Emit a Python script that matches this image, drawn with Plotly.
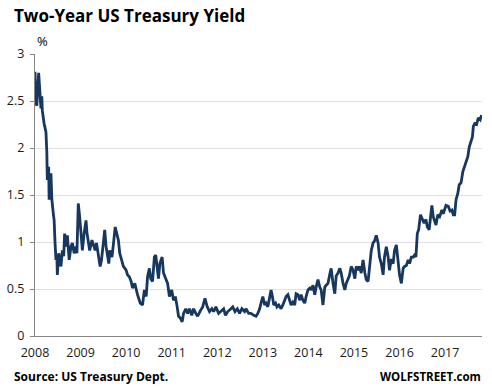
import plotly.graph_objects as go

# Decimal year positions and two-year yield values (%)
years = [
    2008.00, 2008.02, 2008.04, 2008.08, 2008.11, 2008.13, 2008.15, 2008.16, 2008.20, 2008.24,
    2008.26, 2008.27, 2008.30, 2008.31, 2008.35, 2008.37, 2008.40, 2008.42, 2008.44, 2008.46,
    2008.48, 2008.49, 2008.52, 2008.54, 2008.57, 2008.60, 2008.63, 2008.65, 2008.68, 2008.71,
    2008.75, 2008.79, 2008.82, 2008.86, 2008.90, 2008.92, 2008.95, 2008.98, 2009.01, 2009.04,
    2009.08, 2009.12, 2009.14, 2009.17, 2009.20, 2009.25, 2009.29, 2009.32, 2009.35, 2009.39,
    2009.43, 2009.46, 2009.50, 2009.53, 2009.56, 2009.59, 2009.62, 2009.64, 2009.69, 2009.73,
    2009.76, 2009.79, 2009.83, 2009.86, 2009.90, 2009.94, 2010.00, 2010.03, 2010.07, 2010.09,
    2010.11, 2010.14, 2010.19, 2010.25, 2010.31, 2010.36, 2010.40, 2010.44, 2010.47, 2010.51,
    2010.54, 2010.58, 2010.62, 2010.65, 2010.68, 2010.71, 2010.74, 2010.79, 2010.82, 2010.87,
    2010.91, 2010.95, 2011.00, 2011.04, 2011.08, 2011.12, 2011.15, 2011.19, 2011.23, 2011.26,
    2011.31, 2011.35, 2011.39, 2011.44, 2011.48, 2011.53, 2011.57, 2011.63, 2011.68, 2011.73,
    2011.78, 2011.83, 2011.88, 2011.92, 2011.97, 2012.03, 2012.08, 2012.14, 2012.18, 2012.23,
    2012.30, 2012.34, 2012.39, 2012.44, 2012.49, 2012.54, 2012.60, 2012.63, 2012.69, 2012.74,
    2012.80, 2012.85, 2012.89, 2012.93, 2012.96, 2013.00, 2013.04, 2013.07, 2013.11, 2013.15,
    2013.18, 2013.21, 2013.24, 2013.28, 2013.31, 2013.35, 2013.40, 2013.44, 2013.48, 2013.51,
    2013.55, 2013.59, 2013.62, 2013.66, 2013.70, 2013.73, 2013.77, 2013.81, 2013.84, 2013.88,
    2013.92, 2013.95, 2013.99, 2014.03, 2014.06, 2014.10, 2014.14, 2014.17, 2014.21, 2014.25,
    2014.28, 2014.32, 2014.36, 2014.39, 2014.43, 2014.47, 2014.50, 2014.54, 2014.58, 2014.61,
    2014.65, 2014.69, 2014.72, 2014.76, 2014.80, 2014.83, 2014.87, 2014.90, 2014.94, 2014.98,
    2015.02, 2015.05, 2015.09, 2015.12, 2015.16, 2015.20, 2015.24, 2015.27, 2015.31, 2015.35,
    2015.38, 2015.42, 2015.45, 2015.49, 2015.53, 2015.56, 2015.60, 2015.64, 2015.67, 2015.71,
    2015.75, 2015.78, 2015.82, 2015.86, 2015.89, 2015.93, 2015.97, 2016.00, 2016.04, 2016.08,
    2016.11, 2016.15, 2016.19, 2016.22, 2016.26, 2016.30, 2016.33, 2016.36, 2016.39, 2016.42,
    2016.46, 2016.50, 2016.54, 2016.58, 2016.61, 2016.65, 2016.71, 2016.74, 2016.80, 2016.84,
    2016.88, 2016.93, 2016.96, 2017.02, 2017.07, 2017.11, 2017.15, 2017.18, 2017.21, 2017.24,
    2017.28, 2017.31, 2017.35, 2017.39, 2017.42, 2017.46, 2017.50, 2017.53, 2017.57, 2017.60,
    2017.62, 2017.65, 2017.69, 2017.73, 2017.77, 2017.80,
]
yields = [
    2.81, 2.48, 2.45, 2.80, 2.58, 2.42, 2.55, 2.40, 2.26, 2.17,
    1.95, 1.66, 1.80, 1.45, 1.73, 1.45, 1.31, 1.23, 0.99, 0.81,
    0.85, 0.65, 0.88, 0.80, 0.74, 0.91, 0.85, 1.09, 0.95, 1.07,
    0.81, 0.95, 0.99, 0.88, 0.95, 0.88, 1.41, 1.27, 1.10, 0.91,
    1.10, 1.23, 1.10, 1.02, 0.91, 1.02, 0.95, 0.91, 0.99, 0.88,
    0.74, 0.81, 1.02, 1.13, 0.95, 0.84, 0.77, 0.91, 0.84, 1.02,
    1.16, 1.10, 1.02, 0.88, 0.81, 0.74, 0.70, 0.65, 0.63, 0.61,
    0.58, 0.51, 0.56, 0.44, 0.35, 0.33, 0.49, 0.42, 0.63, 0.72,
    0.61, 0.58, 0.84, 0.86, 0.71, 0.61, 0.77, 0.84, 0.67, 0.60,
    0.56, 0.42, 0.49, 0.38, 0.42, 0.31, 0.21, 0.19, 0.15, 0.24,
    0.29, 0.24, 0.29, 0.22, 0.29, 0.24, 0.21, 0.27, 0.31, 0.40,
    0.31, 0.26, 0.29, 0.26, 0.31, 0.24, 0.26, 0.29, 0.22, 0.26,
    0.29, 0.31, 0.26, 0.29, 0.24, 0.29, 0.26, 0.29, 0.24, 0.24,
    0.22, 0.21, 0.24, 0.29, 0.35, 0.42, 0.33, 0.35, 0.31, 0.40,
    0.49, 0.42, 0.33, 0.35, 0.31, 0.33, 0.29, 0.33, 0.38, 0.42,
    0.44, 0.36, 0.33, 0.36, 0.33, 0.45, 0.44, 0.38, 0.44, 0.38,
    0.35, 0.42, 0.49, 0.51, 0.49, 0.54, 0.44, 0.52, 0.60, 0.52,
    0.49, 0.33, 0.52, 0.54, 0.56, 0.66, 0.72, 0.56, 0.45, 0.64,
    0.67, 0.72, 0.67, 0.56, 0.49, 0.56, 0.60, 0.64, 0.74, 0.70,
    0.61, 0.74, 0.70, 0.74, 0.67, 0.81, 0.67, 0.60, 0.58, 0.77,
    0.91, 0.99, 1.01, 1.07, 0.99, 0.84, 0.77, 0.65, 0.84, 0.95,
    0.84, 0.70, 0.82, 0.77, 0.91, 0.97, 0.77, 0.65, 0.56, 0.72,
    0.74, 0.75, 0.81, 0.77, 0.84, 0.84, 0.86, 0.84, 1.09, 1.13,
    1.29, 1.25, 1.20, 1.24, 1.16, 1.13, 1.39, 1.27, 1.18, 1.29,
    1.27, 1.34, 1.30, 1.39, 1.38, 1.33, 1.34, 1.29, 1.29, 1.45,
    1.52, 1.61, 1.63, 1.75, 1.80, 1.87, 1.91, 2.01, 2.09, 2.12,
    2.23, 2.26, 2.25, 2.32, 2.30, 2.35,
]
x_tick_vals = [2008, 2009, 2010, 2011, 2012, 2013, 2014, 2015, 2016, 2017]
x_tick_text = ["2008", "2009", "2010", "2011", "2012", "2013", "2014", "2015", "2016", "2017"]
y_tick_vals = [0, 0.5, 1, 1.5, 2, 2.5, 3]
y_tick_text = ["0", "0.5", "1", "1.5", "2", "2.5", "3"]

FONT = "Open Sans, DejaVu Sans, sans-serif"

fig = go.Figure()
fig.add_trace(go.Scatter(
    x=years, y=yields, mode="lines",
    line=dict(color="#17375E", width=2.8),
    hoverinfo="skip", showlegend=False,
))

fig.update_layout(
    width=492, height=388,
    margin=dict(l=35, r=10, t=54, b=52, autoexpand=False),
    paper_bgcolor="white", plot_bgcolor="white",
    font=dict(family=FONT, size=12.5, color="#1a1a1a"),
    xaxis=dict(
        range=[2008, 2017.81], tickvals=x_tick_vals, ticktext=x_tick_text,
        showgrid=False, zeroline=False, showline=True, linecolor="#868686", linewidth=1.3,
        ticks="", tickfont=dict(size=12.5, color="#1a1a1a"), ticklabelstandoff=5,
        automargin=False,
    ),
    yaxis=dict(
        range=[0, 3], tickvals=y_tick_vals, ticktext=y_tick_text,
        showgrid=True, gridcolor="#E0E0E6", gridwidth=1, zeroline=False,
        showline=True, linecolor="#868686", linewidth=1.3,
        ticks="outside", ticklen=4, tickcolor="#868686", tickwidth=1,
        tickfont=dict(size=12.5, color="#1a1a1a"), ticklabelstandoff=3,
        automargin=False,
    ),
    annotations=[
        dict(text="<b>Two-Year US Treasury Yield</b>", xref="paper", yref="paper",
             x=-0.0515, y=1.135, xanchor="left", yanchor="middle", showarrow=False,
             font=dict(size=17, color="#000000", family=FONT)),
        dict(text="%", xref="paper", yref="paper", x=0.0, y=1.046,
             xanchor="left", yanchor="middle", showarrow=False,
             font=dict(size=13, color="#000000", family=FONT)),
        dict(text="<b>Source: US Treasury Dept.</b>", xref="paper", yref="paper",
             x=-0.0515, y=-0.142, xanchor="left", yanchor="middle", showarrow=False,
             font=dict(size=12, color="#000000", family=FONT)),
        dict(text="<b>WOLFSTREET.com</b>", xref="paper", yref="paper",
             x=1.002, y=-0.142, xanchor="right", yanchor="middle", showarrow=False,
             font=dict(size=11.5, color="#000000", family=FONT)),
    ],
)

fig.write_html(
    "out.html",
    config={"displayModeBar": False},
    post_script="document.body.style.margin='0';document.body.style.overflow='hidden';",
)
